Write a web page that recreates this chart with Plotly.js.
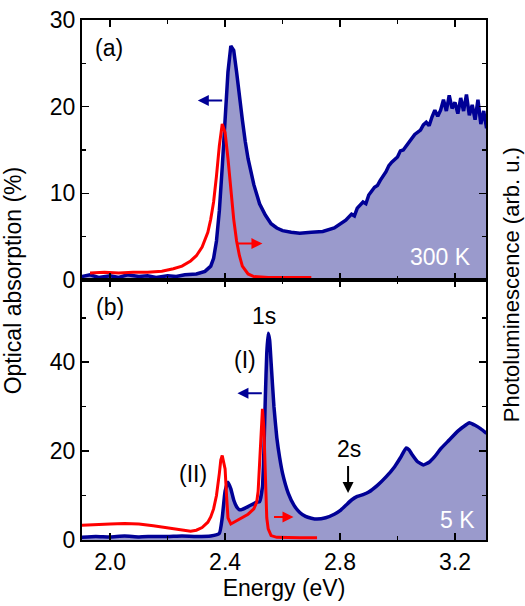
<!DOCTYPE html>
<html>
<head>
<meta charset="utf-8">
<script src="https://cdn.plot.ly/plotly-3.0.1.min.js"></script>
<style>html,body{margin:0;padding:0;background:#fff;}#chart{width:525px;height:606px;}</style>
</head>
<body>
<div id="chart"></div>
<script>
// Panel (a), 300 K: optical absorption (blue) and photoluminescence (red)
const absA_E = [1.90,1.93,1.96,2.00,2.03,2.06,2.10,2.13,2.16,2.20,2.23,2.26,2.30,2.33,2.35,2.36,2.37,2.38,2.39,2.40,2.41,2.42,2.43,2.44,2.45,2.46,2.47,2.48,2.50,2.52,2.54,2.56,2.58,2.60,2.63,2.66,2.70,2.74,2.78,2.80,2.82,2.84,2.85,2.86,2.88,2.89,2.90,2.92,2.93,2.94,2.96,2.97,2.98,3.00,3.01,3.02,3.04,3.05,3.06,3.08,3.09,3.10,3.11,3.12,3.13,3.14,3.15,3.16,3.17,3.18,3.19,3.20,3.21,3.22,3.23,3.24,3.25,3.26,3.27,3.28,3.29,3.30,3.31];
const absA_V = [0.4,0.6,0.3,0.5,0.3,0.6,0.4,0.5,0.3,0.5,0.4,0.6,0.7,1.0,1.6,2.5,4.5,8,13,19,24,27,26.5,24,21,18.5,16,14,11,8.8,7.5,6.5,6.0,5.7,5.5,5.4,5.5,5.6,6.0,6.4,6.9,7.6,7.4,8.3,9.0,8.8,9.8,10.7,10.9,11.5,12.5,13.2,13.6,14.2,14.9,15.0,15.9,16.4,16.8,17.3,17.9,18.2,17.8,18.8,19.6,18.9,19.6,20.8,19.5,21.3,19.8,20.5,19.2,21.0,19.5,21.4,19.0,20.2,18.5,20.8,18.0,19.5,17.5];
const plA_E = [1.93,1.98,2.03,2.08,2.13,2.18,2.22,2.25,2.28,2.30,2.32,2.34,2.35,2.36,2.37,2.38,2.39,2.40,2.41,2.42,2.43,2.44,2.45,2.46,2.48,2.50,2.55,2.60,2.65,2.70];
const plA_V = [0.8,0.9,0.8,0.9,0.9,1.0,1.3,1.6,2.2,2.8,3.8,5.5,7,9,12,15.5,18,17,14,10.5,7,4.5,2.8,1.6,0.7,0.4,0.3,0.3,0.3,0.3];

// Panel (b), 5 K
const absB_E = [1.90,1.95,2.00,2.05,2.10,2.15,2.20,2.25,2.30,2.35,2.38,2.39,2.40,2.41,2.42,2.43,2.44,2.45,2.46,2.48,2.50,2.51,2.52,2.53,2.535,2.54,2.545,2.55,2.555,2.56,2.57,2.58,2.59,2.60,2.62,2.64,2.66,2.68,2.70,2.72,2.75,2.78,2.80,2.82,2.84,2.86,2.88,2.90,2.93,2.96,2.99,3.01,3.03,3.04,3.05,3.07,3.09,3.11,3.13,3.15,3.18,3.21,3.24,3.25,3.27,3.29,3.31];
const absB_V = [0.6,0.8,0.7,0.9,0.7,0.8,0.8,0.9,0.8,0.9,1.5,5,11,13,11.5,9,7.5,6.8,6.9,7.5,8.2,8.5,8.6,12,20,32,42,46.5,45,40,30,23,18.5,15,10.5,7.8,6.2,5.3,4.9,4.7,5.0,5.8,6.6,7.8,9.0,9.8,10.2,10.8,12.3,14.2,16.5,18.5,20.7,20.3,19.3,17.6,16.9,17.5,18.8,20.5,22.5,24.5,26.0,26.4,25.8,25.0,24.0];
const plB_E = [1.90,1.95,2.00,2.05,2.10,2.15,2.20,2.25,2.28,2.30,2.32,2.34,2.35,2.36,2.37,2.38,2.385,2.39,2.40,2.405,2.41,2.42,2.44,2.46,2.48,2.50,2.51,2.515,2.52,2.525,2.53,2.535,2.54,2.545,2.55,2.56,2.58,2.62,2.66,2.72];
const plB_V = [3.3,3.5,3.6,3.7,3.6,3.2,2.7,2.2,2.0,2.2,2.8,4.0,5.2,7,10,15,18,19,16,10,5,3.6,4.3,5.0,5.8,7,8.5,11,17,25,29.5,25,12,5,2.5,1.0,0.6,0.5,0.5,0.5];

const xTickVals = [2.0, 2.4, 2.8, 3.2];
const xTickText = ['2.0', '2.4', '2.8', '3.2'];

const BLUE = '#000096';
const FILL = '#9a9acc';
const RED = '#ff0000';
const FONT = 'Liberation Sans, Arial, sans-serif';

const traces = [
  {x: absA_E, y: absA_V, xaxis: 'x', yaxis: 'y', mode: 'lines', fill: 'tozeroy', fillcolor: FILL, line: {color: BLUE, width: 3.5}},
  {x: plA_E, y: plA_V, xaxis: 'x', yaxis: 'y', mode: 'lines', line: {color: RED, width: 3}},
  {x: absB_E, y: absB_V, xaxis: 'x2', yaxis: 'y2', mode: 'lines', fill: 'tozeroy', fillcolor: FILL, line: {color: BLUE, width: 3.5, shape: 'spline', smoothing: 0.4}},
  {x: plB_E, y: plB_V, xaxis: 'x2', yaxis: 'y2', mode: 'lines', line: {color: RED, width: 3}}
];

const xCommon = {
  range: [1.902, 3.308], showline: true, linecolor: '#000', linewidth: 2, mirror: 'ticks',
  ticks: 'inside', ticklen: 7, tickwidth: 1.5, tickcolor: '#000',
  tickvals: xTickVals, ticktext: xTickText, showgrid: false, zeroline: false,
  minor: {ticks: 'inside', ticklen: 4, tickwidth: 1.5, tickcolor: '#000', dtick: 0.2, tick0: 2.0, showgrid: false}
};
const yCommon = {
  showline: true, linecolor: '#000', linewidth: 2, mirror: 'ticks',
  ticks: 'inside', ticklen: 7, tickwidth: 1.5, tickcolor: '#000', showgrid: false, zeroline: false,
  tickfont: {size: 23, color: '#000'}
};

function ann(text, xref, yref, x, y, color) {
  return {text: text, xref: xref, yref: yref, x: x, y: y, showarrow: false,
    font: {size: 23, color: color || '#000', family: FONT}};
}
function arrow(xref, yref, x, y, ax, ay, color) {
  return {text: '', xref: xref, yref: yref, x: x, y: y, axref: xref, ayref: yref, ax: ax, ay: ay,
    showarrow: true, arrowhead: 2, arrowsize: 1.1, arrowwidth: 2, arrowcolor: color};
}

const layout = {
  width: 525, height: 606,
  margin: {l: 82, r: 39, t: 20, b: 66},
  paper_bgcolor: '#fff', plot_bgcolor: '#fff',
  showlegend: false,
  font: {family: FONT, size: 23, color: '#000'},
  xaxis: Object.assign({}, xCommon, {anchor: 'y', showticklabels: false}),
  yaxis: Object.assign({}, yCommon, {domain: [0.5, 1], anchor: 'x', range: [0, 30], tickvals: [0, 10, 20, 30],
    minor: {ticks: 'inside', ticklen: 4, tickwidth: 1.5, tickcolor: '#000', dtick: 5, showgrid: false}}),
  xaxis2: Object.assign({}, xCommon, {anchor: 'y2', matches: 'x', showticklabels: true,
    tickfont: {size: 23, color: '#000'},
    title: {text: 'Energy (eV)', font: {size: 23, color: '#000'}, standoff: 6}}),
  yaxis2: Object.assign({}, yCommon, {domain: [0, 0.5], anchor: 'x2', range: [0, 58.5], tickvals: [0, 20, 40],
    minor: {ticks: 'inside', ticklen: 4, tickwidth: 1.5, tickcolor: '#000', dtick: 10, showgrid: false}}),
  annotations: [
    {text: 'Optical absorption (%)', xref: 'paper', yref: 'paper', x: -0.17, y: 0.5, textangle: -90,
      showarrow: false, font: {size: 23, color: '#000'}, xanchor: 'center', yanchor: 'middle'},
    {text: 'Photoluminescence (arb. u.)', xref: 'paper', yref: 'paper', x: 1.062, y: 0.49, textangle: -90,
      showarrow: false, font: {size: 22, color: '#000'}, xanchor: 'center', yanchor: 'middle'},
    ann('(a)', 'x', 'y', 1.995, 26.8),
    ann('300 K', 'x', 'y', 3.15, 2.6, '#fff'),
    ann('(b)', 'x2', 'y2', 2.0, 52.5),
    ann('1s', 'x2', 'y2', 2.535, 50.3),
    ann('(I)', 'x2', 'y2', 2.47, 40.5),
    ann('(II)', 'x2', 'y2', 2.29, 14.8),
    ann('2s', 'x2', 'y2', 2.83, 20.5),
    ann('5 K', 'x2', 'y2', 3.21, 4.6, '#fff'),
    arrow('x', 'y', 2.305, 20.7, 2.395, 20.7, BLUE),
    arrow('x', 'y', 2.53, 4.2, 2.44, 4.2, RED),
    arrow('x2', 'y2', 2.443, 33, 2.533, 33, BLUE),
    arrow('x2', 'y2', 2.638, 5.2, 2.565, 5.2, RED),
    arrow('x2', 'y2', 2.828, 10.6, 2.828, 17.0, '#000')
  ]
};

Plotly.newPlot('chart', traces, layout, {displayModeBar: false, staticPlot: true});
</script>
</body>
</html>
